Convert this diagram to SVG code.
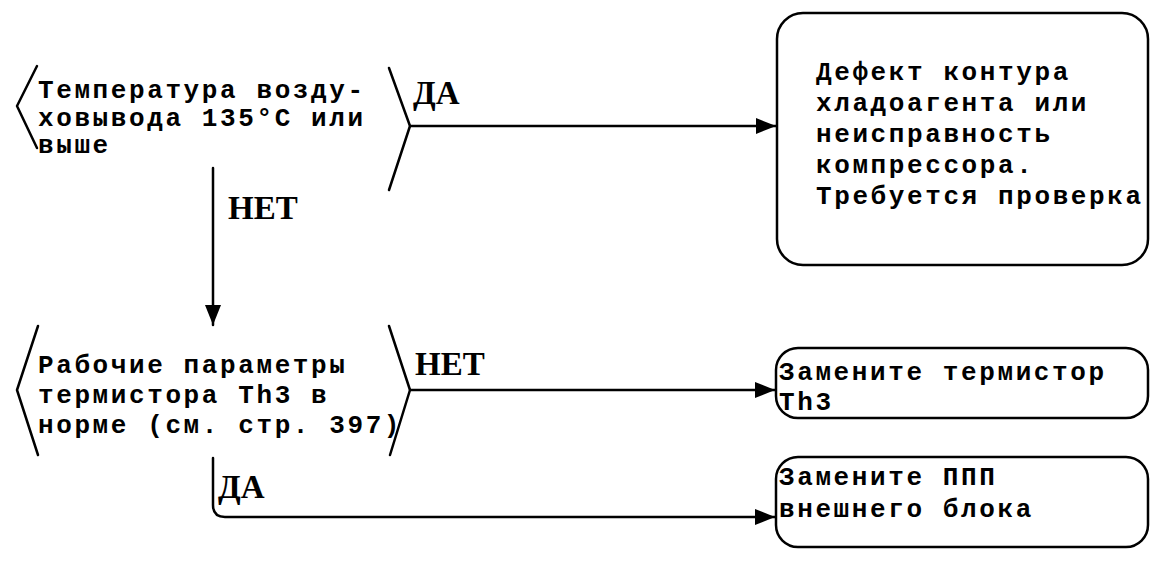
<svg xmlns="http://www.w3.org/2000/svg" width="1150" height="581" viewBox="0 0 1150 581">
<defs>
<style>
.ln{fill:none;stroke:#000;stroke-width:2.5;stroke-linejoin:round;stroke-linecap:round}
.box{fill:#fff;stroke:#000;stroke-width:2.5}
.t{font-family:"Liberation Mono","DejaVu Sans Mono",monospace;font-weight:bold;font-size:26px;letter-spacing:2.6px;fill:#000}
.lb{font-family:"Liberation Serif","DejaVu Serif",serif;font-weight:bold;font-size:33px;fill:#000}
</style>
<marker id="ah" viewBox="0 0 20 16" refX="20" refY="8" markerWidth="20" markerHeight="16" markerUnits="userSpaceOnUse" orient="auto">
<path d="M0,0 L20,8 L0,16 Z" fill="#000"/>
</marker>
</defs>
<rect width="1150" height="581" fill="#fff"/>
<g id="connectors">
<path class="ln" d="M410,126 H776" marker-end="url(#ah)"/>
<path class="ln" d="M213,168 V325" marker-end="url(#ah)"/>
<path class="ln" d="M410,390 H775" marker-end="url(#ah)"/>
<path class="ln" d="M213,458 V505 Q213,517 225,517 H775" marker-end="url(#ah)"/>
<text class="lb" x="413" y="104">ДА</text>
<text class="lb" x="228" y="219">НЕТ</text>
<text class="lb" x="415" y="375">НЕТ</text>
<text class="lb" x="218" y="498">ДА</text>
</g>
<g id="q1">
<path class="ln" d="M37,66 L17,106 L37,148"/>
<path class="ln" d="M389,68 L410,126 L389,190"/>
<text class="t" x="38" y="98">Температура возду-</text>
<text class="t" x="38" y="126">ховывода 135°С или</text>
<text class="t" x="38" y="153">выше</text>
</g>
<g id="r1">
<rect class="box" x="777" y="13" width="371" height="252" rx="26" ry="26"/>
<text class="t" x="816" y="80">Дефект контура</text>
<text class="t" x="816" y="111">хладоагента или</text>
<text class="t" x="816" y="142">неисправность</text>
<text class="t" x="816" y="173">компрессора.</text>
<text class="t" x="816" y="204">Требуется проверка</text>
</g>
<g id="q2">
<path class="ln" d="M38,326 L17,390 L38,455"/>
<path class="ln" d="M389,326 L410,390 L390,455"/>
<text class="t" x="38" y="373">Рабочие параметры</text>
<text class="t" x="38" y="403">термистора Th3 в</text>
<text class="t" x="38" y="433">норме (см. стр. 397)</text>
</g>
<g id="r2">
<rect class="box" x="776" y="348" width="372" height="70" rx="22" ry="22"/>
<text class="t" x="779" y="380">Замените термистор</text>
<text class="t" x="779" y="410">Th3</text>
</g>
<g id="r3">
<rect class="box" x="776" y="457" width="372" height="90" rx="22" ry="22"/>
<text class="t" x="779" y="485">Замените ППП</text>
<text class="t" x="779" y="517">внешнего блока</text>
</g>
</svg>
